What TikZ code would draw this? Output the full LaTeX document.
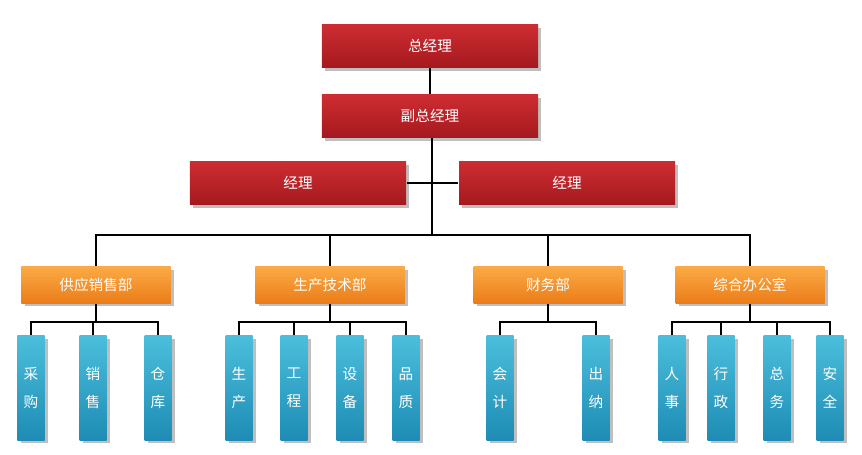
\documentclass[tikz,border=0pt]{standalone}
\usepackage{fontspec}
\setmainfont{Noto Sans CJK SC}
\usetikzlibrary{shadows}

\definecolor{mgrred}{RGB}{205,45,50}
\definecolor{mgrdark}{RGB}{165,25,30}
\definecolor{deptlight}{RGB}{250,170,70}
\definecolor{deptdark}{RGB}{235,125,25}
\definecolor{leaflight}{RGB}{75,190,220}
\definecolor{leafdark}{RGB}{30,140,180}

\begin{document}
\begin{tikzpicture}[
            x = 0.03cm, y = -0.03cm,
            line width = 1.6pt, % connector style
            top/.style = {draw = none, top color = mgrred, bottom color = mgrdark,
                   minimum width = 6.48cm, minimum height = 1.29cm, font = \fontsize{12.5}{14}\selectfont, text = white, drop shadow},
            dept/.style = {draw = none, top color = deptlight, bottom color = deptdark,
                    minimum width = 4.47cm, minimum height = 1.08cm, font = \fontsize{12.5}{14}\selectfont, text = white, drop shadow},
            leaf/.style = {draw = none, top color = leaflight, bottom color = leafdark,
                    minimum width = 0.81cm, minimum height = 3.12cm, align = center,
                    font = \fontsize{12.5}{24}\selectfont, text = white, drop shadow}
        ]
        \useasboundingbox (0,0) rectangle (862,455);

        \node[top] (gm) at (430,46) {总经理};
        \node[top] (vgm) at (430,116) {副总经理};
        \node[top] (m1) at (298,183) {经理};
        \node[top] (m2) at (567,183) {经理};

        \node[dept] (d1) at (96,285) {供应销售部};
        \node[dept] (d2) at (330,285) {生产技术部};
        \node[dept] (d3) at (548,285) {财务部};
        \node[dept] (d4) at (750,285) {综合办公室};

        \foreach \name/\x/\txt in {l1/31/采\\购, l2/93/销\\售, l3/158/仓\\库,
                                   l4/239/生\\产, l5/294/工\\程, l6/350/设\\备, l7/406/品\\质,
                                   l8/500/会\\计, l9/596/出\\纳,
                                   l10/672/人\\事, l11/721/行\\政, l12/777/总\\务, l13/830/安\\全}
            \node[leaf] (\name) at (\x,388) {\txt};

        % trunk
        \coordinate (hub) at (432,235);
        \draw (gm) -- (vgm);
        \draw (vgm.south -| hub) -- (hub);
        \draw (m1.east) -- (m2.west);
        \draw (d1.north) |- (hub) -| (d4.north);
        \draw (d2.north) -- (d2.north |- hub);
        \draw (d3.north) -- (d3.north |- hub);

        % branches
        \foreach \d/\a/\b in {d1/l1/l3, d2/l4/l7, d3/l8/l9, d4/l10/l13} {
            \coordinate (bar) at (\d.south |- 0,322);
            \draw (\d.south) -- (bar);
            \draw (\a.north) |- (bar) -| (\b.north);
        }
        \foreach \l/\d in {l2/d1, l5/d2, l6/d2, l11/d4, l12/d4}
            \draw (\l.north) -- (\l.north |- 0,322);
    \end{tikzpicture}
\end{document}
